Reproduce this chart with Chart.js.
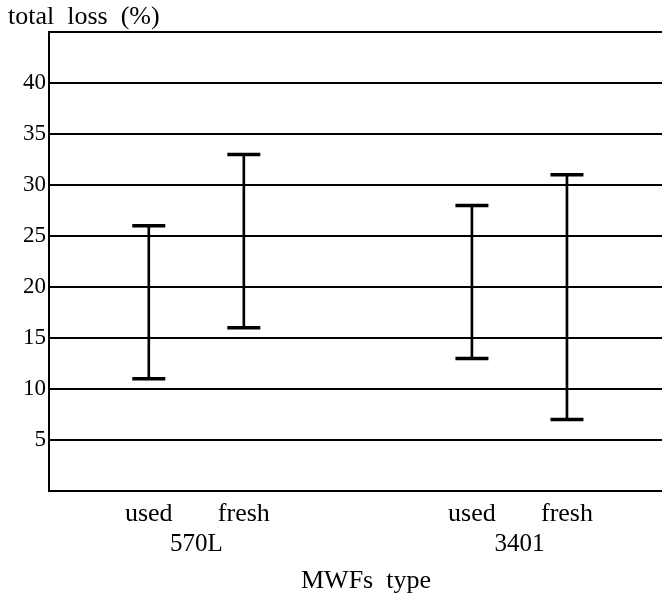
<!DOCTYPE html>
<html lang="en">
<head>
    <meta charset="UTF-8">
    <title>Total loss by MWFs type</title>
    <script src="https://cdn.jsdelivr.net/npm/chart.js"></script>
    <style>
        body {
            margin: 0;
            padding: 0;
            background: #fff;
        }

        .wrap {
            width: 662px;
            height: 595px;
        }
    </style>
</head>
<body>
    <div class="wrap">
        <canvas id="lossChart" width="662" height="595"></canvas>
    </div>

    <script>
        // data
        const groups = ['570L', '3401'];
        const fluids = ['used', 'fresh'];
        const lowVals = [11, 16, 13, 7];
        const highVals = [26, 33, 28, 31];
        const yTicks = [5, 10, 15, 20, 25, 30, 35, 40];

        const FONT = "'Liberation Serif', 'DejaVu Serif', serif";

        // one slot per fluid, wider gap between the two MWF groups
        const xPos = [];
        groups.forEach((g, gi) => {
            fluids.forEach((f, fi) => xPos.push(1 + gi * 3.4 + fi));
        });

        const rangeData = xPos.map((x, i) => ({ x: x, y: [lowVals[i], highVals[i]] }));
        const highData = xPos.map((x, i) => ({ x: x, y: highVals[i] }));
        const lowData = xPos.map((x, i) => ({ x: x, y: lowVals[i] }));

        const capStyle = {
            type: 'scatter',
            pointStyle: 'line',
            pointRadius: 16.5,
            pointHoverRadius: 16.5,
            pointBorderWidth: 3.5,
            borderColor: '#000',
            backgroundColor: '#000'
        };

        // extra labels: y title at top left, group names and x title under the axis
        const labelsPlugin = {
            id: 'labels',
            afterDraw(chart) {
                const ctx = chart.ctx;
                const xs = chart.scales.x;
                ctx.save();
                ctx.fillStyle = '#000';
                ctx.font = '26px ' + FONT;
                ctx.textBaseline = 'alphabetic';
                ctx.textAlign = 'left';
                ctx.fillText('total  loss  (%)', 8, 24);

                ctx.textAlign = 'center';
                ctx.font = '25px ' + FONT;
                groups.forEach((g, gi) => {
                    const a = xPos[gi * 2], b = xPos[gi * 2 + 1];
                    ctx.fillText(g, xs.getPixelForValue((a + b) / 2), 551);
                });
                ctx.font = '26px ' + FONT;
                ctx.fillText('MWFs  type', 366, 588);
                ctx.restore();
            }
        };

        new Chart(document.getElementById('lossChart'), {
            type: 'bar',
            data: {
                datasets: [
                    {
                        type: 'bar',
                        data: rangeData,
                        backgroundColor: '#000',
                        borderWidth: 0,
                        barThickness: 2,
                        grouped: false
                    },
                    Object.assign({ data: highData }, capStyle),
                    Object.assign({ data: lowData }, capStyle)
                ]
            },
            options: {
                responsive: false,
                animation: false,
                layout: {
                    autoPadding: false,
                    padding: { top: 32, left: 0, right: 0, bottom: 0 }
                },
                plugins: {
                    legend: { display: false },
                    tooltip: { enabled: false }
                },
                scales: {
                    x: {
                        type: 'linear',
                        min: -0.05,
                        max: 6.4,
                        offset: false,
                        afterBuildTicks(scale) {
                            scale.ticks = xPos.map(v => ({ value: v }));
                        },
                        afterFit(scale) {
                            scale.height = 104;
                            scale.paddingLeft = 0;
                            scale.paddingRight = 0;
                        },
                        grid: { display: false, offset: false },
                        border: { display: true, color: '#000', width: 2 },
                        ticks: {
                            color: '#000',
                            padding: 0,
                            maxRotation: 0,
                            autoSkip: false,
                            font: { family: FONT, size: 26 },
                            callback: (v, i) => fluids[i % fluids.length]
                        }
                    },
                    y: {
                        min: 0,
                        max: 45,
                        afterBuildTicks(scale) {
                            scale.ticks = [0].concat(yTicks, [45]).map(v => ({ value: v }));
                        },
                        afterFit(scale) {
                            scale.width = 49;
                        },
                        grid: { color: '#000', lineWidth: 2, drawTicks: false },
                        border: { display: true, color: '#000', width: 2 },
                        ticks: {
                            color: '#000',
                            padding: 3,
                            font: { family: FONT, size: 23 },
                            callback: v => (yTicks.includes(v) ? String(v) : '')
                        }
                    }
                }
            },
            plugins: [labelsPlugin]
        });
    </script>
</body>
</html>
